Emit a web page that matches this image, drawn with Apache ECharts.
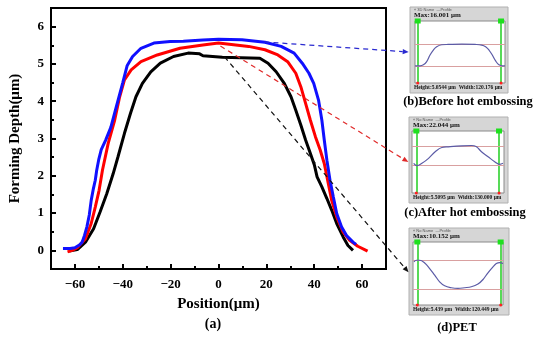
<!DOCTYPE html>
<html>
<head>
<meta charset="utf-8">
<script src="https://cdn.jsdelivr.net/npm/echarts@6/dist/echarts.min.js"></script>
<style>html,body{margin:0;padding:0;background:#fff}#c{width:550px;height:345px}</style>
</head>
<body>
<div id="c"></div>
<script>
// ---------- data ----------
var xTicks = [-60, -40, -20, 0, 20, 40, 60];
var xMinorTicks = [-50, -30, -10, 10, 30, 50];
var yTicks = [0, 1, 2, 3, 4, 5, 6];
var yMinorTicks = [0.5, 1.5, 2.5, 3.5, 4.5, 5.5];

var seriesNames = ['Before hot embossing', 'After hot embossing', 'PET'];

var beforeProfile = [[-65,0.05],[-62,0.05],[-60,0.07],[-58,0.15],[-57,0.22],[-56,0.4],[-55,0.63],[-54,0.95],[-53.2,1.34],[-52.3,1.65],[-51.5,1.88],[-50.9,2.15],[-50,2.45],[-49,2.7],[-47.2,2.95],[-45,3.3],[-42.5,3.9],[-40,4.5],[-38.2,4.95],[-35.9,5.2],[-32.4,5.42],[-27,5.56],[-20.2,5.6],[-14.7,5.61],[-6.5,5.64],[0,5.66],[9.8,5.65],[19.4,5.58],[26.2,5.47],[31.6,5.29],[35,5.02],[37.8,4.75],[39.8,4.48],[41.8,4.03],[43.2,3.49],[44.2,2.96],[45.3,2.42],[46.6,1.88],[48,1.43],[49.4,0.99],[51.4,0.63],[53.5,0.4],[56.2,0.22],[57.5,0.16]];

var afterProfile = [[-63.1,-0.04],[-61.1,0],[-59,0.07],[-55.6,0.31],[-53.2,0.72],[-51.5,1.16],[-49.9,1.61],[-48.5,2.15],[-46.1,2.87],[-43.4,3.49],[-41.3,4.12],[-39.3,4.57],[-36.5,4.84],[-32.4,5.06],[-25.6,5.24],[-16.1,5.42],[-6.5,5.51],[0,5.56],[12.6,5.47],[19.4,5.38],[24.8,5.24],[28.9,5.06],[32.3,4.75],[34.4,4.39],[36.4,3.94],[38.4,3.49],[40.5,3.05],[42.5,2.69],[44.2,2.33],[45.9,1.79],[47.3,1.34],[49.4,0.9],[52.1,0.49],[54.8,0.27],[58.2,0.11],[62.3,-0.02]];

var petProfile = [[-62.4,-0.02],[-59,0.02],[-55.6,0.22],[-52.2,0.58],[-49.5,1.03],[-46.7,1.52],[-44,2.06],[-42,2.51],[-39.3,3.14],[-36.8,3.67],[-34.5,4.12],[-31.8,4.48],[-28.3,4.79],[-24.3,5.02],[-18.8,5.2],[-12.7,5.29],[-7.9,5.27],[-6.5,5.22],[1.6,5.18],[17.3,5.15],[20.7,5.02],[24.1,4.79],[27.5,4.48],[30.3,4.12],[32.3,3.76],[34.4,3.36],[36.4,2.96],[38.4,2.6],[40.1,2.28],[41.2,1.97],[43.2,1.7],[45.3,1.39],[47.3,1.08],[49.4,0.72],[52.1,0.36],[54.1,0.13],[56.2,0]];

// inset profiles (percent of inset frame width / height)
var insetB = [[0,27.7],[5.6,27.7],[9.3,29.3],[13,34.6],[16.7,45.2],[20.4,53.2],[24.1,58.5],[29.6,61.7],[37,62.2],[51.9,62.8],[66.7,62.2],[74.1,61.2],[78.5,58.5],[82.2,53.2],[85.9,45.2],[89.6,35.6],[93.3,29.3],[97,27.7],[100,27.7]];
var insetC = [[1.8,47.9],[5.4,44.1],[10.8,47.9],[18,55.9],[25.2,66.5],[32.4,73.4],[39.6,74.5],[54,76.1],[64.7,76.6],[70.1,74.5],[75.5,66.5],[82.7,58.5],[89.9,50.5],[95.3,46.3],[98.9,47.9]];
var insetD = [[1.1,68.4],[3.7,71],[7.4,71],[13,66.8],[18.5,57.9],[24.1,47.4],[29.6,36.8],[35.2,30.5],[42.6,27.4],[50,26.3],[57.4,27.4],[64.8,28.9],[72.2,33.2],[77.8,40.5],[83.3,51.1],[88.9,60.5],[92.6,65.8],[96.3,67.4],[100,65.8]];
var insetCursorX = [[3,95.6],[4.7,94.6],[4.8,97.4]];
var insetLevels = [[62.2,27.7],[75.5,45.2],[71,25.3]];
var insetMax = ['Max:16.001 μm', 'Max:22.044 μm', 'Max:10.152 μm'];
var insetFoot = ['Height:5.0544 μm  Width:120.176 μm', 'Height:5.5095 μm  Width:130.000 μm', 'Height:5.439 μm  Width:120.449 μm'];
var insetHead = ['« 3D Name  —Profile', '« No Name  —Profile', '« No Name  —Profile'];
var captions = ['(b)Before hot embossing', '(c)After hot embossing', '(d)PET'];

// arrow anchors: start on main chart (data units), end on inset frame (percent units)
var arrowStart = [[19.2,5.59],[0.8,5.48],[2.5,5.19]];
var arrowEnd = [[-7,50],[-4,50],[-5,52]];

// ---------- layout ----------
var FONT = '"Liberation Serif", "Times New Roman", serif';
var colors = ['#1010ff', '#ff0000', '#000000'];
var boxes = [{x:410,y:7,w:98,h:86},{x:409,y:117,w:99,h:86},{x:409,y:228,w:100,h:87}];
var inners = [{x:415,y:21,w:90,h:62},{x:412,y:131,w:92,h:62},{x:413,y:242,w:90,h:63}];
var captionPos = [[468,102],[465,213],[457,328]];

var chart = echarts.init(document.getElementById('c'), null, {renderer:'canvas'});

var minus = function(v){ return String(v).replace('-', '\u2212'); };
var grids = [{left:46, top:8, right:164, bottom:76, show:true, borderColor:'#000', borderWidth:2, backgroundColor:'transparent'}];
var xAxes = [
  {type:'value', gridIndex:0, min:-70, max:70, position:'bottom',
   name:'Position(μm)', nameLocation:'middle', nameGap:28,
   nameTextStyle:{fontFamily:FONT, fontWeight:'bold', fontSize:15, color:'#000'},
   axisLine:{show:true, onZero:false, lineStyle:{color:'#000', width:2}},
   axisTick:{show:true, inside:true, length:5, lineStyle:{width:2, color:'#000'}, customValues:xTicks},
   axisLabel:{customValues:xTicks, formatter:minus, fontFamily:FONT, fontWeight:'bold', fontSize:13, color:'#000', margin:9},
   splitLine:{show:false}},
  {type:'value', gridIndex:0, min:-70, max:70, position:'bottom',
   axisLine:{show:false, onZero:false},
   axisTick:{show:true, inside:true, length:3, lineStyle:{width:2, color:'#000'}, customValues:xMinorTicks},
   axisLabel:{show:false}, splitLine:{show:false}}
];
var yAxes = [
  {type:'value', gridIndex:0, min:-0.5, max:6.5, position:'left',
   name:'Forming Depth(μm)', nameLocation:'middle', nameGap:28,
   nameTextStyle:{fontFamily:FONT, fontWeight:'bold', fontSize:15, color:'#000'},
   axisLine:{show:true, onZero:false, lineStyle:{color:'#000', width:2}},
   axisTick:{show:true, inside:true, length:5, lineStyle:{width:2, color:'#000'}, customValues:yTicks},
   axisLabel:{customValues:yTicks, fontFamily:FONT, fontWeight:'bold', fontSize:13, color:'#000', margin:7},
   splitLine:{show:false}},
  {type:'value', gridIndex:0, min:-0.5, max:6.5, position:'left',
   axisLine:{show:false, onZero:false},
   axisTick:{show:true, inside:true, length:3, lineStyle:{width:2, color:'#000'}, customValues:yMinorTicks},
   axisLabel:{show:false}, splitLine:{show:false}}
];
var series = [
  {name:seriesNames[2], type:'line', xAxisIndex:0, yAxisIndex:0, data:petProfile, showSymbol:false, symbol:'none', lineStyle:{color:colors[2], width:3}, z:3},
  {name:seriesNames[1], type:'line', xAxisIndex:0, yAxisIndex:0, data:afterProfile, showSymbol:false, symbol:'none', lineStyle:{color:colors[1], width:3}, z:4},
  {name:seriesNames[0], type:'line', xAxisIndex:0, yAxisIndex:0, data:beforeProfile, showSymbol:false, symbol:'none', lineStyle:{color:colors[0], width:3}, z:5}
];
var insetData = [insetB, insetC, insetD];
var graphics = [];
for (var i = 0; i < 3; i++) {
  var b = boxes[i], n = inners[i];
  grids.push({left:n.x, top:n.y, width:n.w, height:n.h, show:true, backgroundColor:'#fff', borderColor:'#8a8a8a', borderWidth:1, z:2});
  xAxes.push({type:'value', gridIndex:i+1, min:0, max:100, show:false});
  yAxes.push({type:'value', gridIndex:i+1, min:0, max:100, show:false});
  var cx = insetCursorX[i], lv = insetLevels[i];
  series.push({type:'line', xAxisIndex:i+2, yAxisIndex:i+2, data:insetData[i], symbol:'none', smooth:0.4,
    lineStyle:{color:'#5b5ba6', width:1.2}, z:6,
    markLine:{silent:true, symbol:'none', label:{show:false}, animation:false,
      data:[{xAxis:cx[0], lineStyle:{color:'#2ed12e', width:1.6, type:'solid'}},
            {xAxis:cx[1], lineStyle:{color:'#2ed12e', width:1.6, type:'solid'}},
            {yAxis:lv[0], lineStyle:{color:'#d9a0a0', width:1, type:'solid'}},
            {yAxis:lv[1], lineStyle:{color:'#d9a0a0', width:1, type:'solid'}}]},
    markPoint:{silent:true, animation:false, label:{show:false},
      data:[{coord:[cx[0],100], symbol:'rect', symbolSize:[6,5], itemStyle:{color:'#1ee01e'}},
            {coord:[cx[1],100], symbol:'rect', symbolSize:[6,5], itemStyle:{color:'#1ee01e'}},
            {coord:[cx[0],0], symbol:'circle', symbolSize:3, itemStyle:{color:'#ff2020'}},
            {coord:[cx[1],0], symbol:'circle', symbolSize:3, itemStyle:{color:'#ff2020'}}]}
  });
  graphics.push({type:'rect', shape:{x:b.x, y:b.y, width:b.w, height:b.h}, style:{fill:'#d6d6d6', stroke:'#b0b0b0', lineWidth:1}, z:-5, silent:true});
  graphics.push({type:'text', x:b.x+4, y:b.y+1, style:{text:insetHead[i], font:'4px sans-serif', fill:'#555'}, z:10});
  graphics.push({type:'text', x:b.x+4, y:b.y+4.5, style:{text:insetMax[i], font:'bold 7px ' + FONT, fill:'#111'}, z:10});
  graphics.push({type:'text', x:b.x+4, y:n.y+n.h+2, style:{text:insetFoot[i], font:'bold 5.5px ' + FONT, fill:'#111'}, z:10});
  graphics.push({type:'text', x:captionPos[i][0], y:captionPos[i][1], style:{text:captions[i], font:'bold 12.5px ' + FONT, fill:'#000', align:'center', verticalAlign:'middle'}, z:10});
}
graphics.push({type:'text', x:213, y:324, style:{text:'(a)', font:'bold 14px ' + FONT, fill:'#000', align:'center', verticalAlign:'middle'}, z:10});

chart.setOption({
  animation:false,
  grid:grids, xAxis:xAxes, yAxis:yAxes, series:series, graphic:graphics
});

// dashed arrows from main curves to insets
var arrowColors = ['#2a2ad0', '#e02a2a', '#111'];
var extra = [];
for (var k = 0; k < 3; k++) {
  var p0 = chart.convertToPixel({gridIndex:0}, arrowStart[k]);
  var p1 = chart.convertToPixel({gridIndex:k+1}, arrowEnd[k]);
  var ang = Math.atan2(p1[1]-p0[1], p1[0]-p0[0]);
  var L = 6, W = 2.6;
  var bx = p1[0] - L*Math.cos(ang), by = p1[1] - L*Math.sin(ang);
  extra.push({type:'line', shape:{x1:p0[0], y1:p0[1], x2:bx, y2:by}, style:{stroke:arrowColors[k], lineWidth:1.2, lineDash:[5,4]}, z:20, silent:true});
  extra.push({type:'polygon', shape:{points:[[p1[0],p1[1]],[bx + W*Math.sin(ang), by - W*Math.cos(ang)],[bx - W*Math.sin(ang), by + W*Math.cos(ang)]]}, style:{fill:arrowColors[k]}, z:20, silent:true});
}
chart.setOption({graphic:graphics.concat(extra)});
</script>
</body>
</html>
